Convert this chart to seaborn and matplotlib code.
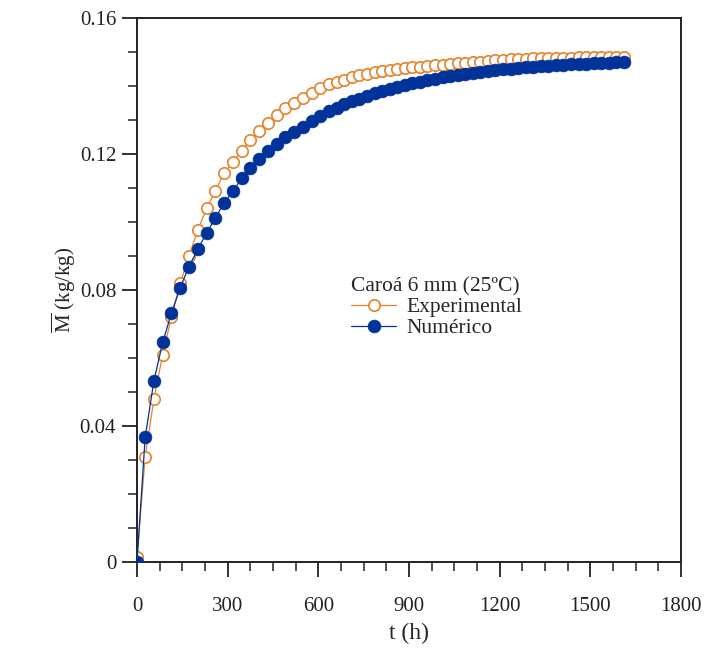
import matplotlib
matplotlib.use("Agg")
import matplotlib.pyplot as plt
import seaborn as sns
import pandas as pd
from matplotlib.ticker import MultipleLocator

# ---- data ----
t_h = [0, 27, 56, 85, 114, 143, 172, 201, 230, 259, 288, 317, 346, 375, 404,
       433, 462, 491, 520, 549, 578, 607, 636, 661, 686, 711, 736, 761, 786,
       811, 836, 861, 886, 911, 936, 961, 986, 1011, 1036, 1061, 1086, 1111,
       1136, 1161, 1186, 1211, 1236, 1261, 1286, 1311, 1336, 1361, 1386, 1411,
       1436, 1461, 1486, 1511, 1536, 1561, 1586, 1611]
m_exp = [0.0015, 0.0310, 0.0480, 0.0610, 0.0720, 0.0820, 0.0900, 0.0976,
         0.1040, 0.1090, 0.1145, 0.1175, 0.1210, 0.1242, 0.1267, 0.1292,
         0.1315, 0.1335, 0.1350, 0.1365, 0.1379, 0.1394, 0.1405, 0.1412,
         0.1419, 0.1425, 0.1431, 0.1436, 0.1440, 0.1443, 0.1447, 0.1450,
         0.1453, 0.1455, 0.1457, 0.1459, 0.1461, 0.1463, 0.1465, 0.1467,
         0.1469, 0.1471, 0.1472, 0.1474, 0.1476, 0.1477, 0.1478, 0.1479,
         0.1480, 0.1481, 0.1482, 0.1482, 0.1483, 0.1483, 0.1483, 0.1484,
         0.1484, 0.1484, 0.1484, 0.1484, 0.1484, 0.1484]
m_num = [0.0000, 0.0367, 0.0533, 0.0646, 0.0732, 0.0807, 0.0869, 0.0920,
         0.0967, 0.1012, 0.1056, 0.1090, 0.1128, 0.1159, 0.1185, 0.1210,
         0.1230, 0.1250, 0.1266, 0.1280, 0.1296, 0.1312, 0.1326, 0.1336,
         0.1346, 0.1355, 0.1363, 0.1371, 0.1378, 0.1385, 0.1391, 0.1397,
         0.1402, 0.1408, 0.1413, 0.1417, 0.1421, 0.1425, 0.1429, 0.1433,
         0.1436, 0.1439, 0.1442, 0.1444, 0.1447, 0.1449, 0.1451, 0.1453,
         0.1455, 0.1457, 0.1458, 0.1460, 0.1461, 0.1463, 0.1464, 0.1465,
         0.1466, 0.1467, 0.1468, 0.1469, 0.1470, 0.1470]
series_names = ["Experimental", "Numérico"]
legend_title = "Caroá 6 mm (25ºC)"
x_ticks = [0, 300, 600, 900, 1200, 1500, 1800]
y_ticks = [0, 0.04, 0.08, 0.12, 0.16]
y_tick_labels = ["0", "0.04", "0.08", "0.12", "0.16"]

df_exp = pd.DataFrame({"t": t_h, "M": m_exp})
df_num = pd.DataFrame({"t": t_h, "M": m_num})

sns.set_style("ticks")
plt.rcParams["font.family"] = ["Liberation Serif", "DejaVu Serif"]
plt.rcParams["mathtext.fontset"] = "custom"
plt.rcParams["mathtext.rm"] = "Liberation Serif"
plt.rcParams["mathtext.it"] = "Liberation Serif:italic"

fig = plt.figure(figsize=(7.07, 6.49), dpi=100)
ax = fig.add_axes([0.1938, 0.134, 0.7694, 0.8383])

orange = "#E5822A"
blue = "#003399"

sns.lineplot(data=df_exp, x="t", y="M", ax=ax, color=orange, lw=0.9,
             marker="o", markersize=8.2, markerfacecolor="white",
             markeredgecolor=orange, markeredgewidth=1.2,
             label=series_names[0], zorder=2)
sns.lineplot(data=df_num, x="t", y="M", ax=ax, color=blue, lw=0.9,
             marker="o", markersize=9.2, markerfacecolor=blue,
             markeredgecolor=blue, markeredgewidth=0.5,
             label=series_names[1], zorder=3)

ax.set_xlim(0, 1800)
ax.set_ylim(0, 0.16)
ax.set_xticks(x_ticks)
ax.set_xticklabels([str(v) for v in x_ticks])
ax.set_yticks(y_ticks)
ax.set_yticklabels(y_tick_labels)
ax.xaxis.set_minor_locator(MultipleLocator(75))
ax.yaxis.set_minor_locator(MultipleLocator(0.01))
ax.tick_params(which="major", direction="out", length=11, width=1.3,
               labelsize=15, colors="#222222")
ax.tick_params(which="minor", direction="out", length=6.5, width=1.1,
               colors="#222222")
ax.tick_params(axis="x", which="major", pad=14)
ax.tick_params(axis="y", which="major", pad=4)
for s in ax.spines.values():
    s.set_linewidth(1.4)
    s.set_color("#222222")
    s.set_visible(True)

ax.set_xlabel("t (h)", fontsize=17, labelpad=5)
ax.set_ylabel(r"$\overline{\mathrm{M}}$ (kg/kg)", fontsize=15, labelpad=1)

leg = ax.legend(title=legend_title, loc="upper left",
                bbox_to_anchor=(0.366, 0.552), frameon=False, fontsize=15.5,
                title_fontsize=15.5, alignment="left", handlelength=2.1,
                handletextpad=0.45, labelspacing=0.05, borderpad=0.2)

fig.savefig("out.png", dpi=100)
